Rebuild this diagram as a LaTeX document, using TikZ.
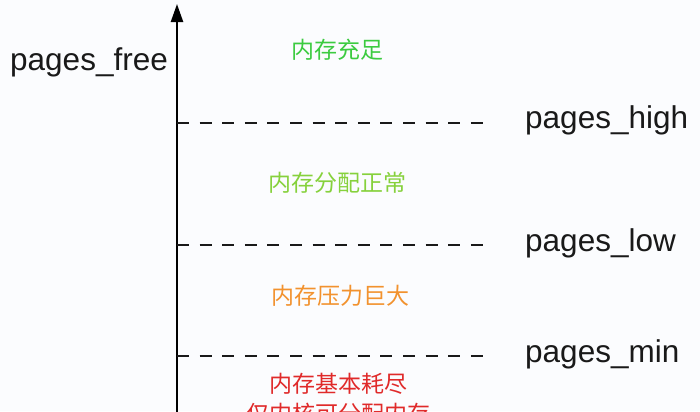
\documentclass[tikz,border=0pt]{standalone}
\usepackage{fontspec}
\setmainfont{Liberation Sans}
\newfontfamily\cjk{Noto Sans CJK SC}
\usetikzlibrary{arrows.meta}
\definecolor{bgc}{HTML}{FBFCFE}
\definecolor{cgreen}{HTML}{3CCB40}
\definecolor{clime}{HTML}{86D13C}
\definecolor{corange}{HTML}{F2922E}
\definecolor{cred}{HTML}{E02A2A}
\tikzset{
  lvl/.style={font=\fontsize{31.5bp}{36bp}\selectfont, anchor=west, inner sep=0pt, text=black!90},
  zone/.style={font=\cjk\fontsize{23bp}{26bp}\selectfont, inner sep=0pt},
  guide/.style={line width=1.4bp, dash pattern=on 12bp off 10.6bp, black!90},
  axis/.style={line width=2.4bp, -{Triangle[length=18bp,width=12bp]}, black}
}
\begin{document}
\begin{tikzpicture}[x=1bp,y=-1bp]
\useasboundingbox (0,0) rectangle (700,411);
\fill[bgc] (0,0) rectangle (700,411);
\clip (0,0) rectangle (700,411);
\coordinate (ab) at (177,415);
\coordinate (at) at (177,4);
\draw[axis] (ab) -- (at);
\coordinate (h0) at (177,123);
\coordinate (h1) at (484,123);
\coordinate (l0) at (177,245);
\coordinate (l1) at (484,245);
\coordinate (m0) at (177,356);
\coordinate (m1) at (484,356);
\draw[guide] (h0) -- (h1);
\draw[guide] (l0) -- (l1);
\draw[guide] (m0) -- (m1);
\node[lvl] (free) at (10,62) {pages\_free};
\node[lvl] (high) at (525,120) {pages\_high};
\node[lvl] (low) at (525,243) {pages\_low};
\node[lvl] (min) at (525,354) {pages\_min};
\node[zone, text=cgreen] (z1) at (337,50) {内存充足};
\node[zone, text=clime] (z2) at (337.5,183) {内存分配正常};
\node[zone, text=corange] (z3) at (340,296) {内存压力巨大};
\node[zone, text=cred] (z4) at (338,384) {内存基本耗尽};
\node[zone, text=cred] (z5) at (338,414) {仅内核可分配内存};
\end{tikzpicture}
\end{document}
